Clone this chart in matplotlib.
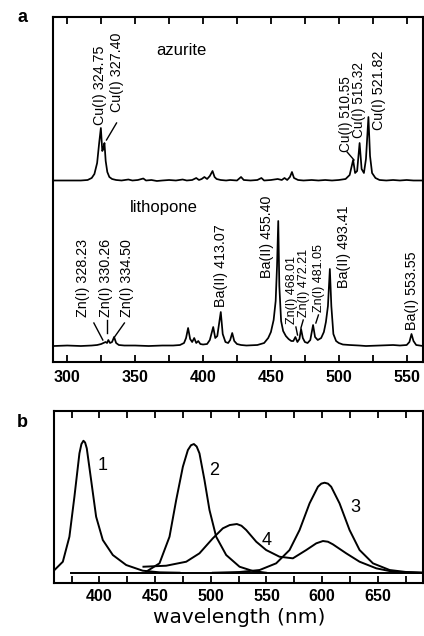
#!/usr/bin/env python3
"""LIBS spectra of azurite and lithopone (a) and emission bands (b)."""

import matplotlib as mpl
import matplotlib.pyplot as plt
from matplotlib.ticker import MultipleLocator

# ---- panel a: LIBS spectra (wavelength nm, intensity a.u.) ----
AZURITE_NM = [290, 300, 310, 315, 318, 320, 322, 323.5, 324.75, 325.8, 326.5, 327.4,
              328.3, 329.5, 331, 333, 336, 340, 345, 348, 352, 356, 358, 362, 366,
              370, 375, 380, 385, 388, 392, 395, 397, 399, 401, 403, 405, 407, 408.5,
              410, 413, 417, 420, 425, 428, 430, 435, 440, 443, 445, 450, 455, 458,
              460, 462, 464, 465.5, 467, 470, 474, 480, 485, 490, 495, 500, 505, 508,
              510.55, 512, 513.5, 515.32, 516.8, 518.5, 520, 521.82, 523, 524.5, 527,
              530, 535, 540, 545, 550, 555, 562]
AZURITE_I = [0.5, 0.5, 0.5, 1, 3, 7, 18, 38, 53, 30, 32, 38,
             20, 9, 4, 2, 1, 0.5, 1.5, 0.5, 1, 2.5, 0.5, 1, 0,
             0.5, 1, 0.5, 1.5, 0.5, 1, 3, 1, 2, 4, 2, 5, 10, 4,
             2, 1, 0.5, 1, 0.5, 4, 1, 0.5, 1, 3, 0.5, 1, 2, 1,
             3, 1, 4, 9, 3, 1, 0.5, 1, 0.5, 1, 0.5, 1, 2, 6,
             21, 8, 10, 38, 12, 8, 22, 64, 25, 8, 3,
             1, 0.5, 1, 0.5, 1, 0.5, 0.5]

LITHOPONE_NM = [290, 300, 310, 318, 322, 325, 328.23, 329.3, 330.26, 331.5, 333, 334.5,
                336, 338, 342, 350, 360, 370, 378, 383, 386, 387.5, 389, 390.5, 392,
                393.5, 395, 396.5, 398, 400, 403, 405, 407.5, 409, 410.5, 413.07,
                414.5, 416.5, 418.5, 420, 421.5, 423, 425, 428, 432, 440, 445, 448,
                450, 452, 453.5, 454.5, 455.4, 456.2, 457.5, 459, 461, 463, 465,
                466.5, 468.01, 469.5, 471, 472.21, 473.5, 475, 477, 479, 481.05,
                482.5, 484.5, 487, 489, 490.5, 492, 493.41, 494.5, 496, 498, 500,
                503, 508, 515, 520, 530, 540, 545, 550, 552, 553.55, 555, 557, 562]
LITHOPONE_I = [0, 0.5, 0, 0.5, 1, 2, 4, 3, 6, 3, 4, 9,
               3, 1, 0.5, 0.5, 0, 0.5, 0.5, 1, 3, 8, 18, 7, 4,
               8, 3, 5, 2, 1.5, 2, 6, 19, 8, 10, 34,
               12, 4, 3, 6, 13, 5, 2, 1, 0.5, 1, 3, 8,
               14, 26, 45, 80, 125, 60, 25, 15, 10, 7, 5,
               5, 9, 4, 7, 17, 8, 4, 3, 6, 21,
               9, 6, 8, 14, 24, 40, 77, 40, 12, 5, 3,
               1.5, 1, 0.5, 0, 0.5, 1, 0.5, 1, 4, 12, 5, 1, 0]

# peak labels: text, x (nm), y of text foot, optional leader line
AZURITE_LABELS = [
    ("Cu(I) 324.75", 323.8, 237, None),
    ("Cu(I) 327.40", 336.3, 250, (336.3, 239, 328.9, 222)),
    ("Cu(I) 510.55", 505.0, 210, (506.1, 210, 511.2, 202)),
    ("Cu(I) 515.32", 514.6, 224, None),
    ("Cu(I) 521.82", 529.6, 232, None),
]
LITHOPONE_LABELS = [
    ("Zn(I) 328.23", 311.3, 45, (319.6, 39, 326.2, 22)),
    ("Zn(I) 330.26", 328.9, 45, (329.4, 42, 329.4, 29)),
    ("Zn(I) 334.50", 344.3, 45, (342.1, 39, 334.8, 25)),
    ("Ba(II) 413.07", 413.5, 55, None),
    ("Ba(II) 455.40", 447.3, 84, None),
    ("Zn(I) 468.01", 465.6, 38, (468.4, 35, 469.6, 27)),
    ("Zn(I) 472.21", 474.0, 45, (473.8, 42, 472.1, 34)),
    ("Zn(I) 481.05", 485.5, 50, (485.0, 47, 483.1, 39)),
    ("Ba(II) 493.41", 503.9, 74, None),
    ("Ba(I) 553.55", 553.9, 32, None),
]
CROWDED = {"Zn(I) 468.01", "Zn(I) 472.21", "Zn(I) 481.05"}
TIGHT = {"Cu(I) 510.55", "Cu(I) 515.32"}

# ---- panel b: emission bands (wavelength nm, intensity a.u.) ----
BAND1_NM = [359.6, 367.1, 373, 377.5, 382, 383.8, 385.6, 387.1, 388.6, 392.5, 397,
            403, 412, 424, 438.9, 453.9, 471.9]
BAND1_I = [13, 21.3, 46.3, 86.3, 129.7, 139, 142.3, 140.5, 134.7, 103, 66.3,
           43, 28, 18, 12.3, 10.7, 10.3]
BAND2_NM = [441.9, 453.9, 462.9, 468.9, 474.9, 479.4, 482.2, 484.8, 487.3, 489.8,
            494.3, 498.8, 504.8, 513.8, 525.8, 537.8, 549.7]
BAND2_I = [11.3, 19.7, 46.3, 83, 116.3, 133, 137.8, 139, 136.5, 129.7,
           103, 73, 46.3, 28, 16.3, 12, 10.3]
BAND3_NM = [501.8, 525.8, 543.8, 558.7, 570.7, 579.7, 588.7, 596.2, 599.2, 602.2,
            605.2, 608.1, 615.6, 624.6, 633.6, 645.6, 660.6, 675.5, 690.5]
BAND3_I = [10.3, 11, 13, 19.7, 33, 53, 79.7, 96.3, 99.4, 100.3,
           99.4, 96.3, 79.7, 53, 33, 19.7, 13, 11, 10.3]
BAND4_NM = [439.5, 459.9, 477.9, 489.8, 501.8, 510.8, 517, 523.4, 527.5, 531.8,
            540.8, 549.7, 561.7, 573.7, 585.7, 594.7, 600.7, 605.2, 609.6, 621.6,
            633.6, 648.6, 663.5, 690.5]
BAND4_I = [16.3, 17.3, 21.3, 29.7, 44.7, 54.7, 58, 59, 57.3, 53,
           41.3, 33, 26.3, 24.7, 33, 39.7, 42, 41.3, 38.7, 29.7,
           21.3, 14.7, 11.3, 10.3]
BASE_NM = [374.5, 690.5]
BASE_I = [10, 10]
BAND_LABELS = [("1", 403, 118), ("2", 503.3, 113), ("3", 630, 76), ("4", 549.7, 43)]

AZURITE_OFFSET = 181
LITHOPONE_OFFSET = 16


def configure_matplotlib() -> None:
    mpl.rcParams.update(
        {
            "font.family": ["Liberation Sans", "DejaVu Sans"],
            "font.size": 10,
            "axes.linewidth": 1.5,
            "xtick.direction": "in",
            "xtick.top": True,
            "xtick.major.width": 1.3,
            "xtick.minor.width": 1.3,
            "xtick.major.size": 5,
            "xtick.minor.size": 5,
            "xtick.labelsize": 11.5,
        }
    )


def style_axis(ax: plt.Axes, pad: float) -> None:
    ax.xaxis.set_major_locator(MultipleLocator(50))
    ax.xaxis.set_minor_locator(MultipleLocator(25))
    ax.tick_params(axis="x", which="both", pad=pad)
    for label in ax.get_xticklabels():
        label.set_fontweight("bold")
    ax.set_yticks([])


def label_size(text: str) -> float:
    if text in CROWDED:
        return 9
    if text in TIGHT:
        return 9.8
    return 10.3


def draw_libs(ax: plt.Axes) -> None:
    ax.plot(AZURITE_NM, [v + AZURITE_OFFSET for v in AZURITE_I], color="black", lw=1.25)
    ax.plot(LITHOPONE_NM, [v + LITHOPONE_OFFSET for v in LITHOPONE_I], color="black", lw=1.25)
    for text, x, y, leader in AZURITE_LABELS + LITHOPONE_LABELS:
        ax.text(x, y, text, rotation=90, ha="center", va="bottom", fontsize=label_size(text))
        if leader:
            ax.plot([leader[0], leader[2]], [leader[1], leader[3]], color="black", lw=1.0)
    ax.text(384, 311, "azurite", ha="center", va="center", fontsize=12)
    ax.text(371, 154, "lithopone", ha="center", va="center", fontsize=12)
    ax.set_xlim(289.5, 562)
    ax.set_ylim(0, 345)
    style_axis(ax, 6)


def draw_bands(ax: plt.Axes) -> None:
    for xs, ys in [(BAND1_NM, BAND1_I), (BAND2_NM, BAND2_I), (BAND3_NM, BAND3_I),
                   (BAND4_NM, BAND4_I), (BASE_NM, BASE_I)]:
        ax.plot(xs, ys, color="black", lw=1.4)
    for text, x, y in BAND_LABELS:
        ax.text(x, y, text, ha="center", va="center", fontsize=13)
    ax.set_xlim(359.6, 690.5)
    ax.set_ylim(0, 172)
    style_axis(ax, 4.5)
    ax.set_xlabel("wavelength (nm)", fontsize=14.5, family="DejaVu Sans", labelpad=3)


def main() -> None:
    configure_matplotlib()
    fig = plt.figure(figsize=(4.24, 6.36), dpi=100)
    ax_a = fig.add_axes([0.125, 0.4308, 0.8726, 0.5425])
    ax_b = fig.add_axes([0.1285, 0.0833, 0.869, 0.2704])
    draw_libs(ax_a)
    draw_bands(ax_b)
    fig.text(0.054, 0.973, "a", fontsize=13, weight="bold", ha="center", va="center")
    fig.text(0.053, 0.336, "b", fontsize=13, weight="bold", ha="center", va="center")
    fig.savefig("out.png", dpi=100)


if __name__ == "__main__":
    main()
